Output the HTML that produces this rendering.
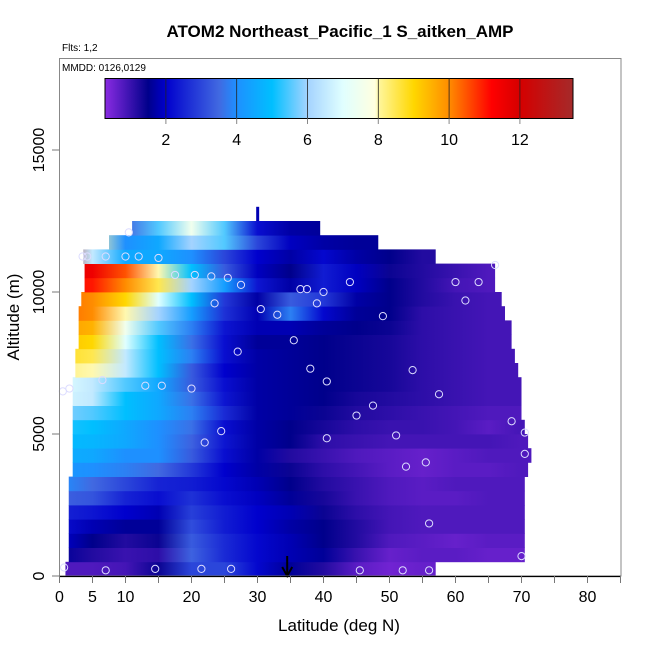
<!DOCTYPE html>
<html><head><meta charset="utf-8"><style>
html,body{margin:0;padding:0;background:#fff;}
svg{display:block;font-family:"Liberation Sans",Arial,sans-serif;}
</style></head><body>
<svg id="chart" width="650" height="650" viewBox="0 0 650 650">
<defs id="defs"></defs>
<g id="cells"></g>
<g id="pts"></g>
<g id="axes"></g>
<g id="cbar"></g>
</svg>
<script>
// ---- data ----
const latNodes = [0,5,10,15,20,25,30,35,40,45,50,55,60,65,70];
const altBins = [0,500,1000,1500,2000,2500,3000,3500,4000,4500,5000,5500,6000,6500,7000,7500,8000,8500,9000,9500,10000,10500,11000,11500,12000];
const rowStart = [0.9,1.4,1.4,1.4,1.4,1.4,1.4,2,2,2,2,2,2,2,2.4,2.4,2.9,2.9,2.9,3.3,3.8,3.8,3.6,7.5,11];
const rowEnd = [57,70.5,70.5,70.5,70.5,70.5,70.5,71,71.5,71,70.5,70,70,70,69.5,69,68.5,68.5,67.5,67,66,66,57,48.3,39.5];
const rowValues = [
 [0.8,0.8,0.9,1.4,3,3,2.1,1.6,1.2,0.7,0.5,0.6,0.6,0.6,0.6],
 [1.6,1.2,1.0,1.1,3.4,2.6,2.1,1.8,1.6,1.0,0.6,0.7,0.7,0.6,0.6],
 [2,1.5,1.2,1.4,3.3,2.6,2.1,1.8,1.5,1.2,0.8,0.7,0.6,0.7,0.7],
 [2.2,1.8,1.6,1.6,3.1,2.4,2,1.7,1.5,1.2,0.9,0.8,0.8,0.8,0.8],
 [2.5,2.3,2,1.8,2.9,2.4,2,1.8,1.4,1.1,0.9,0.8,0.8,0.8,0.8],
 [3.4,3.2,2.5,2.2,2.7,2.2,1.9,1.6,1.3,1.0,0.8,0.7,0.7,0.8,0.8],
 [4,3.5,3,2.5,2.4,2.1,1.8,1.5,1.2,1,0.8,0.7,0.8,0.8,0.8],
 [4.2,4,3.8,3.5,2.8,2.0,1.7,1.4,1.1,0.9,0.7,0.6,0.7,0.7,0.8],
 [4.6,4.5,4,4,3.3,2.2,1.7,1.2,1.0,0.8,0.7,0.6,0.7,0.8,0.8],
 [4.9,4.8,4.5,4,3.4,2.3,1.7,1.5,1.1,1,0.9,0.9,0.9,0.9,0.8],
 [5.2,5,4.5,4,3.6,2.2,1.7,1.5,1.3,1.1,1,1,0.9,0.7,0.9],
 [5.8,5.5,5,4.5,3.8,2.6,1.7,1.6,1.4,1.2,1.1,1,0.9,0.8,0.8],
 [6.8,6.5,5,4.5,3.6,2.3,1.7,1.6,1.5,1.3,1.2,1.1,1,0.9,0.9],
 [7,6.5,5.5,4.5,3.3,2.2,1.7,1.6,1.5,1.4,1.3,1.1,1,0.9,0.9],
 [8.2,8,6.5,5,3.3,2.0,1.7,1.6,1.5,1.4,1.3,1.1,1,0.9,0.9],
 [8.8,8.5,6.5,5,3.8,2.2,1.7,1.6,1.5,1.4,1.3,1.1,1,0.9,0.9],
 [9.3,9,7,5,3.6,2.2,1.6,1.6,1.5,1.4,1.3,1.1,1,0.9,0.9],
 [9.8,9.5,7.5,5.5,3.8,2.3,1.8,1.8,1.6,1.5,1.4,1.1,1,0.9,0.9],
 [10.3,10,8,6,4.3,2.7,1.8,3.8,2.1,1.6,1.5,1.1,1,0.9,0.9],
 [10.3,10,9,7,5,2.8,1.7,3.3,2.8,1.7,1.5,1.2,1,0.9,0.9],
 [11.2,11,10,8.5,6,4.3,2.3,1.7,2.4,1.9,1.5,1.2,0.9,0.8,0.8],
 [11.8,11.5,10.5,8,5,3.3,1.9,1.5,2.4,1.9,1.4,1.2,1,0.8,0.8],
 [13.5,6.5,4.5,4.5,4,3,2,1.7,2.1,1.7,1.5,1.2,1.2,1.2,1.2],
 [8,8,4,4.5,6,5.5,3,1.9,1.7,1.6,1.6,1.6,1.6,1.6,1.6],
 [3.5,3.5,3.5,5.5,7.5,5.5,2.2,1.7,1.6,1.6,1.6,1.6,1.6,1.6,1.6]
];
const pointLat = [0.7,7,14.5,21.5,26,45.5,52,56,70,56,52.5,55.5,51,70.5,70.5,68.5,40.5,24.5,22,45,47.5,57.5,0.5,1.5,6.5,13,15.5,20,40.5,38,53.5,27,35.5,33,30.5,49,23.5,39,61.5,36.5,37.5,40,27.5,17.5,20.5,23,25.5,44,60,63.5,66,3.5,4.2,7,10,12,15,10.5];
const pointAlt = [300,200,250,250,250,200,200,200,700,1850,3850,4000,4950,4300,5050,5450,4850,5100,4700,5650,6000,6400,6500,6600,6900,6700,6700,6600,6850,7300,7250,7900,8300,9200,9400,9150,9600,9600,9700,10100,10100,10000,10250,10600,10600,10550,10500,10350,10350,10350,10950,11250,11250,11250,11250,11250,11200,12100];
const xTicks = [0,5,10,20,30,40,50,60,70,80];
const yTicks = [0,5000,10000,15000];
const cbarTicks = [2,4,6,8,10,12];
// ---- scales ----
const X0=59.5, PXD=6.6, Y0=576, PXA=0.0284;
const xs = v => X0 + v*PXD;
const ys = a => Y0 - a*PXA;
const CMIN=0.28, CMAX=13.5, CB0=105, CB1=573;
const cbx = v => CB0 + (v-CMIN)/(CMAX-CMIN)*(CB1-CB0);
const cstops=[[0.28,[138,43,226]],[1.5,[0,0,139]],[2.0,[0,0,205]],[3.5,[65,105,225]],[4.0,[30,144,255]],[5.0,[0,191,255]],[6.0,[164,211,255]],[7.0,[224,255,255]],[7.9,[255,255,224]],[8.05,[255,245,150]],[9.0,[255,215,0]],[10.0,[255,140,0]],[11.2,[255,0,0]],[12.0,[213,0,0]],[13.5,[165,42,42]]];
function col(v){
  if(v<=cstops[0][0]) return 'rgb('+cstops[0][1]+')';
  for(let i=1;i<cstops.length;i++){ if(v<=cstops[i][0]){const a=cstops[i-1],b=cstops[i];const t=(v-a[0])/(b[0]-a[0]);
    return 'rgb('+a[1].map((c,k)=>Math.round(c+(b[1][k]-c)*t)).join(',')+')';}}
  return 'rgb('+cstops[cstops.length-1][1]+')';
}
const NS='http://www.w3.org/2000/svg';
function mk(tag,attrs,parent){const e=document.createElementNS(NS,tag);for(const k in attrs)e.setAttribute(k,attrs[k]);if(parent)parent.appendChild(e);return e;}
const defs=document.getElementById('defs'), cells=document.getElementById('cells'), pts=document.getElementById('pts'), axes=document.getElementById('axes'), cbar=document.getElementById('cbar');
rowValues.forEach((vals,r)=>{
  const g=mk('linearGradient',{id:'g'+r,gradientUnits:'userSpaceOnUse',x1:xs(latNodes[0]),x2:xs(latNodes[latNodes.length-1]),y1:0,y2:0},defs);
  vals.forEach((v,i)=>{mk('stop',{offset:(latNodes[i]-latNodes[0])/(latNodes[latNodes.length-1]-latNodes[0]),'stop-color':col(v)},g);});
  const y1=ys(altBins[r]+500), y2=ys(altBins[r]);
  const rect=mk('rect',{x:xs(rowStart[r]),y:y1,width:xs(rowEnd[r])-xs(rowStart[r]),height:y2-y1+0.4,fill:'url(#g'+r+')'},cells);
  
  
});
const stub=mk('rect',{x:xs(29.8),y:ys(13000),width:3,height:ys(12500)-ys(13000),fill:col(1.8)},cells);


pointLat.forEach((la,i)=>{
  const c=mk('circle',{cx:xs(la),cy:ys(pointAlt[i]),r:3.6,fill:'none',stroke:'#dcdcff','stroke-width':1},pts);
  
  
});
const ar=mk('g',{},axes);


mk('line',{x1:xs(34.5),x2:xs(34.5),y1:556,y2:575,stroke:'#000','stroke-width':2},ar);
mk('path',{d:`M${xs(34.5)-5} 567 L${xs(34.5)} 576 L${xs(34.5)+5} 567`,fill:'none',stroke:'#000','stroke-width':2},ar);
const fr=mk('rect',{x:59.5,y:58.5,width:561.5,height:517.5,fill:'none',stroke:'#888','stroke-width':1},axes);


const bl=mk('line',{x1:59,x2:621,y1:576.5,y2:576.5,stroke:'#000','stroke-width':1.2},axes);


for(let v=0;v<=85;v+=5){ mk('line',{x1:xs(v),x2:xs(v),y1:576,y2:583,stroke:'#777'},axes); }
xTicks.forEach(v=>{
  const t=mk('text',{x:xs(v),y:602,'font-size':16,'text-anchor':'middle',fill:'#000'},axes);
  t.textContent=v;
  
  
});
yTicks.forEach(v=>{
  mk('line',{x1:52,x2:59.5,y1:ys(v),y2:ys(v),stroke:'#777'},axes);
  const t=mk('text',{x:0,y:0,'font-size':16,'text-anchor':'middle',fill:'#000',transform:`translate(44,${ys(v)}) rotate(-90)`},axes);
  t.textContent=v;
  
  
});
function txt(s,attrs,name){const t=mk('text',attrs,axes);t.textContent=s;return t;}
txt('ATOM2 Northeast_Pacific_1 S_aitken_AMP',{x:340,y:37,'font-size':17,'font-weight':'bold','text-anchor':'middle'},'chart-title');
txt('Flts: 1,2',{x:62,y:51,'font-size':10},'flights-label');
txt('MMDD: 0126,0129',{x:62,y:71,'font-size':10},'dates-label');
txt('Latitude (deg N)',{x:339,y:631,'font-size':17,'text-anchor':'middle'},'x-axis-title');
txt('Altitude (m)',{x:0,y:0,'font-size':17,'text-anchor':'middle',transform:'translate(19,317) rotate(-90)'},'y-axis-title');
const cg=mk('linearGradient',{id:'cbg',gradientUnits:'userSpaceOnUse',x1:CB0,x2:CB1,y1:0,y2:0},defs);
cstops.forEach(s=>mk('stop',{offset:(s[0]-CMIN)/(CMAX-CMIN),'stop-color':col(s[0])},cg));
const cbr=mk('rect',{x:CB0,y:78.5,width:CB1-CB0,height:40,fill:'url(#cbg)',stroke:'#000','stroke-width':1},cbar);


cbarTicks.forEach(v=>{
  mk('line',{x1:cbx(v),x2:cbx(v),y1:78.5,y2:118.5,stroke:'#222','stroke-width':0.8},cbar);
  mk('line',{x1:cbx(v),x2:cbx(v),y1:118.5,y2:124,stroke:'#888'},cbar);
  const t=mk('text',{x:cbx(v),y:145,'font-size':16,'text-anchor':'middle'},cbar);
  t.textContent=v;
  
  
});
</script>
</body></html>
